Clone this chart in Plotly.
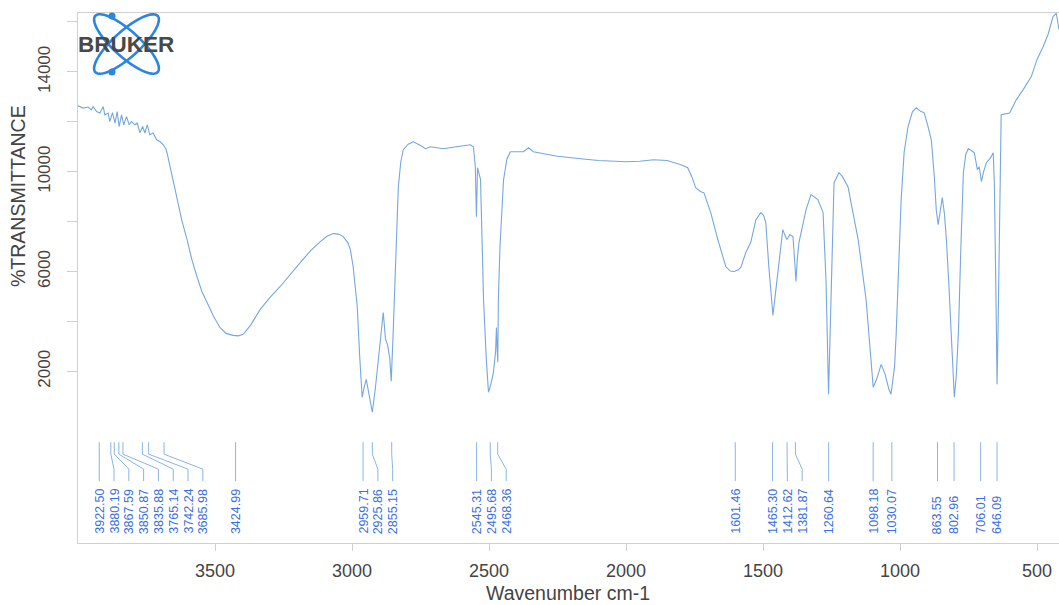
import numpy as np
import plotly.graph_objects as go

# ---------------- data ----------------
wavenumber = [
    4000, 3981, 3963, 3951, 3945, 3932, 3920, 3908, 3902, 3890, 3884, 3874, 3865, 3857, 3850,
    3841, 3833, 3823, 3813, 3805, 3792, 3784, 3774, 3764, 3756, 3747, 3738, 3726, 3713, 3701,
    3689, 3679, 3675, 3664, 3653, 3640, 3634, 3620, 3602, 3585, 3566, 3548, 3529, 3505, 3482,
    3460, 3434, 3415, 3397, 3370, 3335, 3300, 3262, 3225, 3189, 3150, 3116, 3090, 3068, 3050,
    3032, 3015, 3006, 2996, 2988, 2981, 2972, 2963, 2955, 2948, 2940, 2926, 2915, 2900, 2886,
    2878, 2870, 2862, 2857, 2850, 2842, 2831, 2822, 2813, 2795, 2776, 2750, 2732, 2714, 2690,
    2667, 2620, 2568, 2557, 2550, 2546, 2542, 2531, 2525, 2520, 2510, 2502, 2493, 2484, 2476,
    2473, 2470, 2468, 2466, 2460, 2447, 2435, 2422, 2390, 2374, 2356, 2338, 2300, 2250, 2166,
    2100, 2000, 1950, 1900, 1850, 1800, 1775, 1760, 1746, 1727, 1716, 1691, 1665, 1636, 1620,
    1606, 1592, 1581, 1563, 1545, 1526, 1508, 1498, 1490, 1479, 1464, 1455, 1446, 1428, 1420,
    1413, 1402, 1391, 1385, 1380, 1375, 1369, 1343, 1325, 1300, 1281, 1270, 1261, 1252, 1241,
    1223, 1210, 1190, 1170, 1153, 1124, 1110, 1098, 1085, 1069, 1055, 1040, 1033, 1020, 1014,
    1005, 996, 985, 971, 955, 941, 925, 912, 900, 886, 875, 868, 861, 853, 846,
    838, 831, 822, 813, 802, 795, 787, 778, 769, 760, 751, 740, 729, 718, 711,
    703, 695, 685, 670, 660, 656, 650, 646, 642, 638, 631, 600, 576, 550, 521,
    500, 478, 460, 442, 430, 420,
]
transmittance = [
    12640, 12550, 12590, 12480, 12610, 12410, 12350, 12610, 12280, 12350, 12010, 12370, 11950, 12410, 11810,
    12280, 11880, 12210, 11880, 12010, 11880, 11950, 11560, 11810, 11550, 11880, 11480, 11550, 11280, 11210,
    11080, 10910, 10750, 10210, 9750, 9100, 8760, 8000, 7280, 6500, 5800, 5200, 4760, 4200, 3760,
    3520, 3440, 3420, 3480, 3850, 4480, 4950, 5400, 5900, 6360, 6850, 7200, 7420, 7520, 7500,
    7400, 7150, 6880, 6200, 5280, 4600, 2600, 960, 1400, 1680, 1200, 360, 1300, 3000, 4360,
    3300, 3050, 2500, 1600, 3500, 6200, 9400, 10400, 10880, 11100, 11200, 11050, 10920, 11000, 10950,
    10920, 11000, 11080, 11000, 10200, 8200, 10160, 9680, 7500, 4880, 2500, 1160, 1500, 1960, 2800,
    3760, 2800, 2360, 4880, 7000, 9680, 10500, 10800, 10780, 10800, 10960, 10800, 10720, 10620, 10520,
    10450, 10400, 10420, 10480, 10450, 10280, 10160, 9800, 9360, 9200, 9160, 8360, 7280, 6200, 6020,
    6000, 6060, 6160, 6760, 7160, 8080, 8360, 8250, 7960, 6200, 4240, 5100, 6200, 7680, 7450,
    7280, 7480, 7400, 6500, 5600, 6500, 7160, 8480, 9080, 8880, 8360, 5560, 1080, 4880, 9560,
    9960, 9800, 9400, 8300, 7280, 4880, 2800, 1360, 1700, 2280, 1900, 1250, 1080, 2200, 3560,
    6000, 8880, 10800, 11800, 12400, 12560, 12420, 12360, 11900, 11280, 9800, 8480, 7880, 8500, 8960,
    8300, 7280, 5500, 3560, 960, 1800, 3560, 7000, 9960, 10700, 10920, 10850, 10760, 10080, 10200,
    9600, 10000, 10360, 10550, 10760, 9560, 5000, 1480, 4000, 7160, 12280, 12350, 12880, 13300, 13810,
    14500, 15010, 15500, 16210, 16350, 15700,
]
peaks = [3922.50, 3880.19, 3867.59, 3850.87, 3835.88, 3765.14, 3742.24, 3685.98, 3424.99,
         2959.71, 2925.86, 2855.15, 2545.31, 2495.68, 2468.36,
         1601.46, 1465.30, 1412.62, 1381.87, 1260.64, 1098.18, 1030.07,
         863.55, 802.96, 706.01, 646.09]
x_ticks = [3500, 3000, 2500, 2000, 1500, 1000, 500]
y_ticks = [2000, 6000, 10000, 14000]
y_minor_ticks = [4000, 8000, 12000, 16000]

# ---------------- layout constants ----------------
W, H = 1059, 605
ML, MT, MB, MR = 78, 13, 62, 0
X_RANGE = [4000, 420]
Y_RANGE = [-4880, 16360]
LINE_COLOR = "#76a7de"
CONN_COLOR = "#8cb4e4"
LABEL_COLOR = "#3a6fe2"
AXIS_COLOR = "#d0d0d0"
TEXT_COLOR = "#444444"
FONT = "Liberation Sans, Arial, sans-serif"

# label de-overlap (greedy, labels shift toward lower wavenumber)
SEP = 54
label_x = []
prev = None
for p in peaks:
    lx = p if prev is None else min(p, prev - SEP)
    label_x.append(lx)
    prev = lx

Y_TOP, Y_B1, Y_B2, Y_BOT, Y_LAB = -840, -1320, -1920, -2400, -4600
cx, cy = [], []
for p, lx in zip(peaks, label_x):
    if abs(p - lx) < 1e-6:
        cx += [p, p, None]
        cy += [Y_TOP, Y_BOT, None]
    else:
        cx += [p, p, lx, lx, None]
        cy += [Y_TOP, Y_B1, Y_B2, Y_BOT, None]

fig = go.Figure()
fig.add_trace(go.Scatter(x=wavenumber, y=transmittance, mode="lines",
                         line=dict(color=LINE_COLOR, width=1.1), hoverinfo="skip"))
fig.add_trace(go.Scatter(x=cx, y=cy, mode="lines",
                         line=dict(color=CONN_COLOR, width=1), hoverinfo="skip"))

annotations = []
for p, lx in zip(peaks, label_x):
    annotations.append(dict(x=lx, y=Y_LAB, xref="x", yref="y", text=f"{p:.2f}",
                            textangle=-90, showarrow=False, xanchor="center",
                            yanchor="bottom", font=dict(family=FONT, size=12.5, color=LABEL_COLOR)))

# axis titles as annotations in pixel-derived paper coords
PW, PH = W - ML - MR, H - MT - MB

def px2paper(px, py):
    return (px - ML) / PW, (H - MB - py) / PH

tx, ty = px2paper(18, 196)
annotations.append(dict(x=tx, y=ty, xref="paper", yref="paper", text="%TRANSMITTANCE",
                        textangle=-90, showarrow=False, xanchor="center", yanchor="middle",
                        font=dict(family=FONT, size=19.5, color=TEXT_COLOR)))
tx, ty = px2paper(568, 593)
annotations.append(dict(x=tx, y=ty, xref="paper", yref="paper", text="Wavenumber cm-1",
                        showarrow=False, xanchor="center", yanchor="middle",
                        font=dict(family=FONT, size=19.5, color=TEXT_COLOR)))

# Bruker logo (decoration)
shapes = []
lcx, lcy, a, b = 126.5, 44, 42, 13
phi = np.linspace(0, 2 * np.pi, 80)
for th_deg in (42, -42):
    th = np.radians(th_deg)
    pxs = lcx + a * np.cos(phi) * np.cos(th) - b * np.sin(phi) * np.sin(th)
    pys = lcy + a * np.cos(phi) * np.sin(th) + b * np.sin(phi) * np.cos(th)
    pts = [px2paper(u, v) for u, v in zip(pxs, pys)]
    path = "M " + " L ".join(f"{u:.5f},{v:.5f}" for u, v in pts) + " Z"
    shapes.append(dict(type="path", path=path, xref="paper", yref="paper",
                       line=dict(color="#2b86e2", width=2.6), layer="above"))
for dx, dy in ((112, 16), (112, 72)):
    x0, y0 = px2paper(dx - 3.5, dy + 3.5)
    x1, y1 = px2paper(dx + 3.5, dy - 3.5)
    shapes.append(dict(type="circle", xref="paper", yref="paper", x0=x0, y0=y0, x1=x1, y1=y1,
                       fillcolor="#2b86e2", line=dict(color="#2b86e2", width=0), layer="above"))
tx, ty = px2paper(126, 45)
annotations.append(dict(x=tx, y=ty, xref="paper", yref="paper", text="<b>BRUKER</b>",
                        showarrow=False, xanchor="center", yanchor="middle",
                        font=dict(family=FONT, size=22.5, color="#484848")))

fig.update_layout(
    width=W, height=H,
    margin=dict(l=ML, r=MR, t=MT, b=MB, autoexpand=False),
    paper_bgcolor="white", plot_bgcolor="white",
    showlegend=False,
    shapes=shapes,
    annotations=annotations,
    xaxis=dict(range=X_RANGE, tickvals=x_ticks, ticktext=[str(v) for v in x_ticks],
               ticks="outside", ticklen=7, automargin=False,
               tickcolor=AXIS_COLOR, showline=True, linecolor=AXIS_COLOR, linewidth=1,
               mirror=True, showgrid=False, zeroline=False, ticklabelstandoff=4,
               tickfont=dict(family=FONT, size=18, color=TEXT_COLOR)),
    yaxis=dict(range=Y_RANGE, tickvals=y_ticks, ticktext=[str(v) for v in y_ticks],
               ticks="outside", ticklen=10, automargin=False,
               tickcolor=AXIS_COLOR, showline=True, linecolor=AXIS_COLOR, linewidth=1,
               mirror=True, showgrid=False, zeroline=False, tickangle=-90,
               ticklabelstandoff=10,
               minor=dict(tickvals=y_minor_ticks, ticks="outside", ticklen=10,
                          tickcolor=AXIS_COLOR, showgrid=False),
               tickfont=dict(family=FONT, size=17, color=TEXT_COLOR)),
)

fig.write_html(
    "out.html",
    config={"displayModeBar": False, "staticPlot": True},
    post_script="document.body.style.margin='0';document.body.style.padding='0';"
                "document.body.style.overflow='hidden';"
                "document.documentElement.style.overflow='hidden';",
)
